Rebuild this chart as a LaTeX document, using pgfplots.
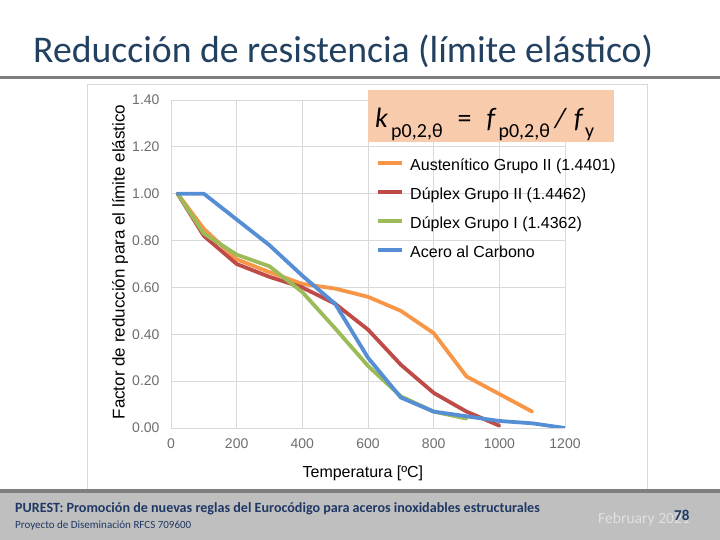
\documentclass[border=0pt]{standalone}
\usepackage{fontspec}
\setmainfont{Carlito}
\newfontfamily\arial{Liberation Sans}
\usepackage{pgfplots}
\pgfplotsset{compat=1.18}

\definecolor{titlec}{HTML}{22405F}
\definecolor{cOr}{HTML}{F79646}
\definecolor{cRd}{HTML}{BE4B48}
\definecolor{cGr}{HTML}{9BBB59}
\definecolor{cBl}{HTML}{558ED5}
\definecolor{peach}{HTML}{F8CBAD}
\definecolor{gridc}{HTML}{D9D9D9}
\definecolor{tickc}{HTML}{6E6E6E}
\definecolor{footbg}{HTML}{BFBFBF}
\definecolor{footline}{HTML}{7F7F7F}
\definecolor{navy}{HTML}{1F3864}

% Reduction factors k_p0.2 vs temperature
\pgfplotstableread{
T k
20 1.00
100 0.85
200 0.72
300 0.665
400 0.615
500 0.595
600 0.56
700 0.50
800 0.405
900 0.22
1000 0.145
1100 0.07
}\austII

\pgfplotstableread{
T k
20 1.00
100 0.82
200 0.70
300 0.645
400 0.60
500 0.53
600 0.42
700 0.27
800 0.15
900 0.07
1000 0.01
}\duplexII

\pgfplotstableread{
T k
20 1.00
100 0.83
200 0.74
300 0.69
400 0.58
500 0.425
600 0.265
700 0.135
800 0.07
900 0.04
}\duplexI

\pgfplotstableread{
T k
20 1.00
100 1.00
200 0.89
300 0.78
400 0.65
500 0.53
600 0.30
700 0.13
800 0.07
900 0.05
1000 0.03
1100 0.02
1200 0.00
}\carbon

\begin{document}
\begin{tikzpicture}[x=1pt,y=1pt]
\fill[white] (0,0) rectangle (720,540);

% slide title and rule
\node[anchor=base west, inner sep=0, text=titlec, font=\fontsize{37.7}{42}\selectfont] at (33,477) {Reducción de resistencia (límite elástico)};
\fill[footline] (0,461) rectangle (720,464);

% chart area frame
\draw[gridc, line width=0.8pt] (87,456) rectangle (647,50);

\begin{axis}[
  at={(171pt,112pt)}, anchor=south west,
  scale only axis, width=394pt, height=328pt,
  xmin=0, xmax=1200, ymin=0, ymax=1.4,
  xtick={0,200,400,600,800,1000,1200},
  ytick={0,0.2,0.4,0.6,0.8,1.0,1.2,1.4},
  grid=major,
  major grid style={draw=gridc, line width=0.8pt},
  axis line style={draw=none},
  major tick length=0pt,
  /pgf/number format/assume math mode=true,
  tick label style={font=\arial\fontsize{14}{16}\selectfont, text=tickc},
  xticklabel style={/pgf/number format/1000 sep={}, yshift=-7pt},
  yticklabel style={/pgf/number format/.cd, fixed, fixed zerofill, precision=2, /tikz/.cd, xshift=-8pt},
  xlabel={Temperatura [ºC]},
  ylabel={Factor de reducción para el límite elástico},
  xlabel style={font=\arial\fontsize{16}{18}\selectfont, text=black,
    at={(axis description cs:0.487,-0.137)}, anchor=center},
  ylabel style={font=\arial\fontsize{17}{19}\selectfont, text=black,
    at={(axis description cs:-0.129,0.506)}, anchor=center},
  every axis plot/.append style={line width=3.8pt, line join=round, line cap=round},
  legend image code/.code={\draw[#1, line cap=butt] (0pt,4pt) -- (24pt,4pt);},
  legend cell align=left,
  legend style={at={(axis description cs:0.512,0.832)}, anchor=north west,
    draw=none, fill=none, row sep=10pt,
    /tikz/every odd column/.append style={column sep=5pt},
    font=\arial\fontsize{16}{18}\selectfont,
    nodes={inner sep=1.5pt, text height=12pt, text depth=4pt}},
]
\addplot[cOr] table[x=T,y=k] {\austII};
\addlegendentry{Austenítico Grupo II (1.4401)}
\addplot[cRd] table[x=T,y=k] {\duplexII};
\addlegendentry{Dúplex Grupo II (1.4462)}
\addplot[cGr] table[x=T,y=k] {\duplexI};
\addlegendentry{Dúplex Grupo I (1.4362)}
\addplot[cBl] table[x=T,y=k] {\carbon};
\addlegendentry{Acero al Carbono}
\end{axis}

% formula box
\fill[peach] (368,450) rectangle (614,398);
\node[anchor=base west, inner sep=0, font=\fontsize{28}{32}\selectfont] at (375,412)
  {\textit{k}\hspace{3pt}\raisebox{-10pt}{\fontsize{20}{22}\selectfont p0,2,θ}\hspace{15pt}=\hspace{15pt}\textit{f}\hspace{2pt}\raisebox{-10pt}{\fontsize{20}{22}\selectfont p0,2,θ}\hspace{5pt}\textit{/}\hspace{7pt}\textit{f}\hspace{1pt}\raisebox{-10pt}{\fontsize{20}{22}\selectfont y}};

% footer
\fill[footbg] (0,0) rectangle (720,50);
\fill[footline] (0,47) rectangle (720,51);
\node[anchor=base west, inner sep=0, text=navy, font=\bfseries\fontsize{14.1}{16}\selectfont] at (15,27)
  {PUREST: Promoción de nuevas reglas del Eurocódigo para aceros inoxidables estructurales};
\node[anchor=base west, inner sep=0, text=navy, font=\fontsize{11}{12}\selectfont] at (15,11)
  {Proyecto de Diseminación RFCS 709600};
\node[anchor=base west, inner sep=0, text=white!88!black, font=\fontsize{15.6}{17}\selectfont] at (598,16)
  {February 2021};
\node[anchor=base west, inner sep=0, text=navy, font=\bfseries\fontsize{15}{16}\selectfont] at (674,19) {78};
\end{tikzpicture}
\end{document}
